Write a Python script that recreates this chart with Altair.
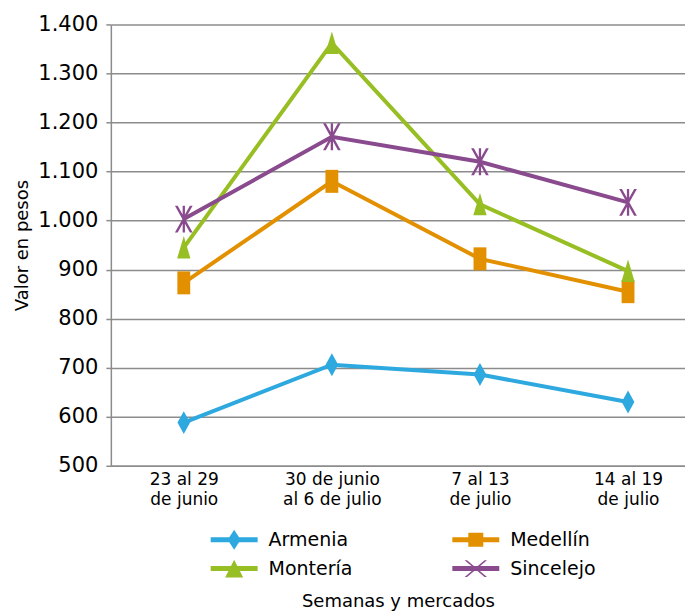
import altair as alt
import pandas as pd

# ---- data ----
semanas = ["23 al 29\nde junio", "30 de junio\nal 6 de julio", "7 al 13\nde julio", "14 al 19\nde julio"]
mercados = ["Armenia", "Medellín", "Montería", "Sincelejo"]
armenia = [588, 706, 686, 630]
medellin = [873, 1080, 922, 855]
monteria = [945, 1362, 1033, 897]
sincelejo = [1003, 1171, 1120, 1037]
colores = ["#2ea9df", "#e39000", "#97be22", "#8a4b8e"]
y_ticks = [500, 600, 700, 800, 900, 1000, 1100, 1200, 1300, 1400]

valores = {"Armenia": armenia, "Medellín": medellin, "Montería": monteria, "Sincelejo": sincelejo}
rows = []
for m in mercados:
    for i, s in enumerate(semanas):
        rows.append({"Mercado": m, "Semana": s, "idx": i, "Valor": valores[m][i]})
df = pd.DataFrame(rows)

# ---- marker shapes (unit square paths) ----
star_plot = ("M-0.77,-1.17L-0.53,-1.17L0.77,1.17L0.53,1.17Z"
             "M0.53,-1.17L0.77,-1.17L-0.53,1.17L-0.77,1.17Z"
             "M-0.1,-1.17L0.1,-1.17L0.1,1.17L-0.1,1.17Z")
marcadores = {
    "Armenia": "M0,-1L0.55,0L0,1L-0.55,0Z",
    "Medellín": "M-0.56,-1L0.56,-1L0.56,1L-0.56,1Z",
    "Montería": "M0,-1L0.58,0.95L-0.58,0.95Z",
    "Sincelejo": star_plot,
}
linea = "M-2.35,-0.25L2.35,-0.25L2.35,0.25L-2.35,0.25Z"
star_leg = ("M-1.12,-0.85L-0.88,-0.85L1.12,0.85L0.88,0.85Z"
            "M0.88,-0.85L1.12,-0.85L-0.88,0.85L-1.12,0.85Z")
legend_paths = [
    linea + "M0,-1L0.65,0L0,1L-0.65,0Z",
    linea + "M-0.75,-0.7L0.75,-0.7L0.75,0.7L-0.75,0.7Z",
    linea + "M0,-0.9L0.9,0.9L-0.9,0.9Z",
    linea + star_leg,
]

FONT = "DejaVu Sans"
GRID = "#8c8c8c"

x = alt.X(
    "Semana:N", sort=semanas,
    scale=alt.Scale(type="point", padding=0.4386, align=0.5615),
    axis=alt.Axis(
        title="Semanas y mercados", titleFontSize=18, titleFontWeight="normal",
        titleColor="black", titleY=141, titleBaseline="alphabetic",
        labelAngle=0, labelFontSize=17, labelColor="black", labelLineHeight=20,
        labelPadding=6, labelExpr="split(datum.label, '\\n')",
        ticks=False, tickSize=0, grid=False,
        domainColor=GRID, domainWidth=1.5,
    ),
)
y = alt.Y(
    "Valor:Q",
    scale=alt.Scale(domain=[500, 1400], nice=False, zero=False),
    axis=alt.Axis(
        values=y_ticks, labelExpr="replace(format(datum.value, ','), ',', '.')",
        title="Valor en pesos", titleFontSize=18, titleFontWeight="normal",
        titleColor="black", titlePadding=6,
        labelFontSize=21, labelColor="black", labelPadding=8,
        tickSize=5, tickColor=GRID, tickWidth=1.5,
        domainColor=GRID, domainWidth=1.5,
        grid=True, gridColor=GRID, gridWidth=1.5,
    ),
)

base = alt.Chart(df)

layers = []
for m, c in zip(mercados, colores):
    layers.append(
        base.transform_filter(alt.datum.Mercado == m)
        .mark_line(strokeWidth=4, color=c)
        .encode(x=x, y=y, order=alt.Order("idx:Q"))
    )
for m, c in zip(mercados, colores):
    layers.append(
        base.transform_filter(alt.datum.Mercado == m)
        .mark_point(shape=marcadores[m], filled=True, size=529, opacity=1,
                    strokeWidth=0, color=c)
        .encode(x=x, y=y)
    )

leg = dict(
    orient="none", legendX=113.5, legendY=506, columns=2, direction="horizontal",
    symbolSize=400, labelFontSize=19, labelColor="black", labelOffset=24.5,
    rowPadding=9, columnPadding=99, padding=0, symbolStrokeWidth=0,
    symbolOpacity=1, title=None, labelLimit=0,
)
legend_layer = base.mark_point(filled=True, opacity=0).encode(
    x=x, y=y,
    color=alt.Color("Mercado:N", scale=alt.Scale(domain=mercados, range=colores), legend=alt.Legend(**leg)),
    shape=alt.Shape("Mercado:N", scale=alt.Scale(domain=mercados, range=legend_paths), legend=alt.Legend(**leg)),
)
layers.append(legend_layer)

chart = alt.layer(*layers).properties(
    width=575, height=442,
    padding={"left": 5, "top": 5, "right": 0, "bottom": 3},
).configure(font=FONT).configure_view(stroke=None)

chart.save("out.html", embed_options={"renderer": "svg", "actions": False})
